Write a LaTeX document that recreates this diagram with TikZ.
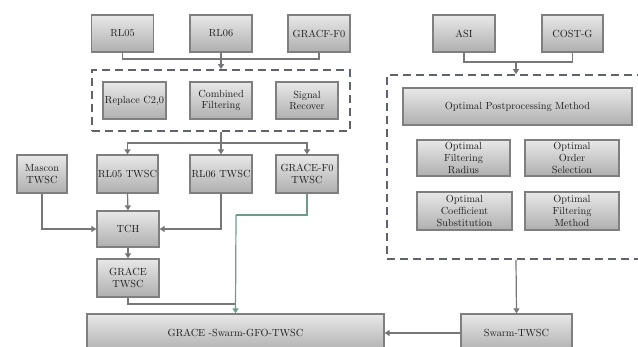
\documentclass[tikz,border=0pt]{standalone}
\usetikzlibrary{arrows.meta}
\definecolor{bordergray}{HTML}{7F7F7F}
\definecolor{linegray}{HTML}{777777}
\definecolor{dashgray}{HTML}{5E636E}
\definecolor{greenline}{HTML}{6E9A8E}
\definecolor{topfill}{HTML}{E8E8E8}
\definecolor{botfill}{HTML}{AFAFAF}
\definecolor{txt}{HTML}{1E1E1E}
\tikzset{
  box/.style={draw=bordergray, line width=1.3pt, top color=topfill, bottom color=botfill,
    inner sep=1pt, align=center, text=txt, font=\fontsize{10.3}{11.8}\selectfont},
  dbox/.style={draw=dashgray, line width=1.6pt, dash pattern=on 8pt off 5pt},
  conn/.style={draw=linegray, line width=1.2pt},
  arr/.style={conn, -{Triangle[length=5pt,width=6pt]}},
  garr/.style={draw=greenline, line width=1.2pt, -{Triangle[length=5pt,width=6pt]}},
}
\begin{document}
\begin{tikzpicture}[x=1pt,y=-1pt]
\useasboundingbox (0,0) rectangle (638,347);
\clip (0,0) rectangle (638,347);
% dashed containers
\node[dbox, minimum width=258pt, minimum height=61pt] (d1) at (221,100.5) {};
\node[dbox, minimum width=258pt, minimum height=184pt] (d2) at (516,167) {};
% top row
\node[box, minimum width=62pt, minimum height=37pt] (rl05) at (122.5,33.5) {RL05};
\node[box, minimum width=62pt, minimum height=37pt] (rl06) at (221,33.5) {RL06};
\node[box, minimum width=62pt, minimum height=37pt] (gracf) at (319,33.5) {GRACF-F0};
\node[box, minimum width=62pt, minimum height=37pt] (asi) at (464,33.5) {ASI};
\node[box, minimum width=61pt, minimum height=37pt] (cost) at (572.5,33.5) {COST-G};
% processing
\node[box, minimum width=63pt, minimum height=37pt] (rep) at (134.5,100.5) {Replace C2,0};
\node[box, minimum width=62pt, minimum height=37pt] (comb) at (221,100.5) {Combined\\Filtering};
\node[box, minimum width=62pt, minimum height=37pt] (sig) at (307,100.5) {Signal\\Recover};
% TWSC row
\node[box, minimum width=50pt, minimum height=38pt] (mas) at (42,174) {Mascon\\TWSC};
\node[box, minimum width=61pt, minimum height=38pt] (rl05t) at (127.5,174) {RL05 TWSC};
\node[box, minimum width=62pt, minimum height=38pt] (rl06t) at (221,174) {RL06 TWSC};
\node[box, minimum width=62pt, minimum height=38pt] (gf0t) at (307,174) {GRACE-F0\\TWSC};
\node[box, minimum width=62pt, minimum height=36pt] (tch) at (128,229) {TCH};
\node[box, minimum width=62pt, minimum height=38pt] (gt) at (128,278) {GRACE\\TWSC};
% bottom
\node[box, minimum width=297pt, minimum height=38pt] (big) at (235.5,333) {GRACE -Swarm-GFO-TWSC};
\node[box, minimum width=111pt, minimum height=38pt] (swarm) at (516.5,333) {Swarm-TWSC};
% right side
\node[box, minimum width=229pt, minimum height=37pt] (opm) at (517.5,106.5) {Optimal Postprocessing Method};
\node[box, minimum width=93pt, minimum height=36pt] (ofr) at (463.5,158) {Optimal\\Filtering\\Radius};
\node[box, minimum width=94pt, minimum height=36pt] (oos) at (572,158) {Optimal\\Order\\Selection};
\node[box, minimum width=95pt, minimum height=38pt] (ocs) at (464.5,211) {Optimal\\Coefficient\\Substitution};
\node[box, minimum width=94pt, minimum height=38pt] (ofm) at (572,211) {Optimal\\Filtering\\Method};
% junctions
\coordinate (j1) at (221,59);
\coordinate (j2) at (221,143);
\coordinate (j3) at (516,62);
\coordinate (j4) at (236,304);
\coordinate (j5) at (236,215);
% connectors
\draw[conn] (rl05.south) |- (j1);
\draw[conn] (gracf.south) |- (j1);
\draw[arr] (rl06.south) -- (d1.north);
\draw[arr] (d1.south) -- (rl06t.north);
\draw[arr] (j2) -| (rl05t.north);
\draw[arr] (j2) -| (gf0t.north);
\draw[arr] (mas.south) |- (tch.west);
\draw[arr] (rl06t.south) |- (tch.east);
\draw[arr] (rl05t.south) -- (tch.north);
\draw[arr] (tch.south) -- (gt.north);
\draw[conn] (gt.south) |- (j4);
\draw[greenline, line width=1.2pt] (gf0t.south) |- (j5);
\draw[garr] (j5) -- (big.north);
\draw[conn] (asi.south) |- (j3);
\draw[conn] (cost.south) |- (j3);
\draw[arr] (j3) -- (d2.north);
\draw[arr] (d2.south) -- (swarm.north);
\draw[arr] (swarm.west) -- (big.east);
\end{tikzpicture}
\end{document}
